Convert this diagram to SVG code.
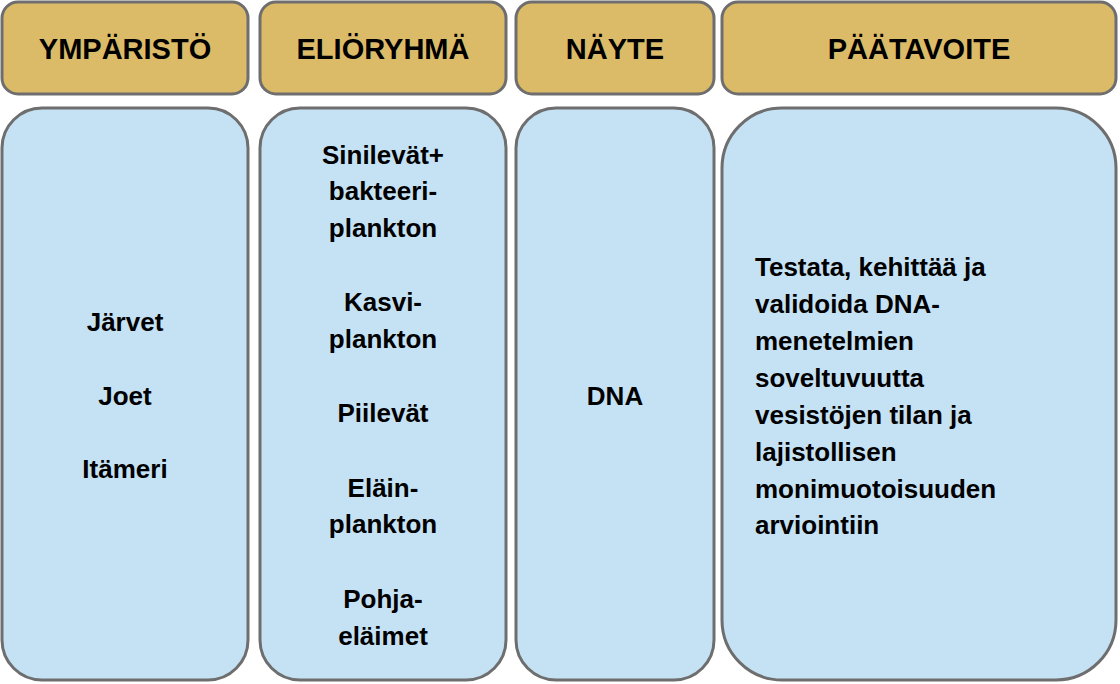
<svg xmlns="http://www.w3.org/2000/svg" width="1120" height="684" viewBox="0 0 1120 684">
<style>
.h{fill:#dcbb68;stroke:#6e6e6e;stroke-width:3}
.b{fill:#c5e2f5;stroke:#6e6e6e;stroke-width:3}
text{font-family:"Liberation Sans",Arial,sans-serif;font-weight:bold;fill:#000}
.ht{font-size:29px;text-anchor:middle}
.t{font-size:26px;text-anchor:middle}
.l{font-size:26px}
</style>
<rect width="1120" height="684" fill="#fff"/>
<g id="h1"><rect class="h" x="2" y="2" width="246" height="92" rx="16"/><text class="ht" x="125" y="59">YMPÄRISTÖ</text></g>
<g id="h2"><rect class="h" x="260" y="2" width="246" height="92" rx="16"/><text class="ht" x="383" y="59">ELIÖRYHMÄ</text></g>
<g id="h3"><rect class="h" x="516" y="2" width="198" height="92" rx="16"/><text class="ht" x="615" y="59">NÄYTE</text></g>
<g id="h4"><rect class="h" x="722" y="2" width="394" height="92" rx="16"/><text class="ht" x="919" y="59">PÄÄTAVOITE</text></g>
<g id="b1"><rect class="b" x="2" y="108" width="246" height="572" rx="40"/>
<text class="t" x="125" y="331">Järvet</text><text class="t" x="125" y="405">Joet</text><text class="t" x="125" y="478">Itämeri</text></g>
<g id="b2"><rect class="b" x="260" y="108" width="246" height="572" rx="40"/>
<text class="t" x="383" y="164">Sinilevät+</text><text class="t" x="383" y="200">bakteeri-</text><text class="t" x="383" y="237">plankton</text>
<text class="t" x="383" y="311">Kasvi-</text><text class="t" x="383" y="348">plankton</text>
<text class="t" x="383" y="422">Piilevät</text>
<text class="t" x="383" y="497">Eläin-</text><text class="t" x="383" y="533">plankton</text>
<text class="t" x="383" y="608">Pohja-</text><text class="t" x="383" y="645">eläimet</text></g>
<g id="b3"><rect class="b" x="516" y="108" width="198" height="572" rx="40"/>
<text class="t" x="615" y="405">DNA</text></g>
<g id="b4"><rect class="b" x="722" y="108" width="394" height="572" rx="60"/>
<text class="l" x="755" y="276">Testata, kehittää ja</text>
<text class="l" x="755" y="313">validoida DNA-</text>
<text class="l" x="755" y="350">menetelmien</text>
<text class="l" x="755" y="387">soveltuvuutta</text>
<text class="l" x="755" y="424">vesistöjen tilan ja</text>
<text class="l" x="755" y="461">lajistollisen</text>
<text class="l" x="755" y="498">monimuotoisuuden</text>
<text class="l" x="755" y="534">arviointiin</text></g>
<g id="connectors"/>
</svg>
